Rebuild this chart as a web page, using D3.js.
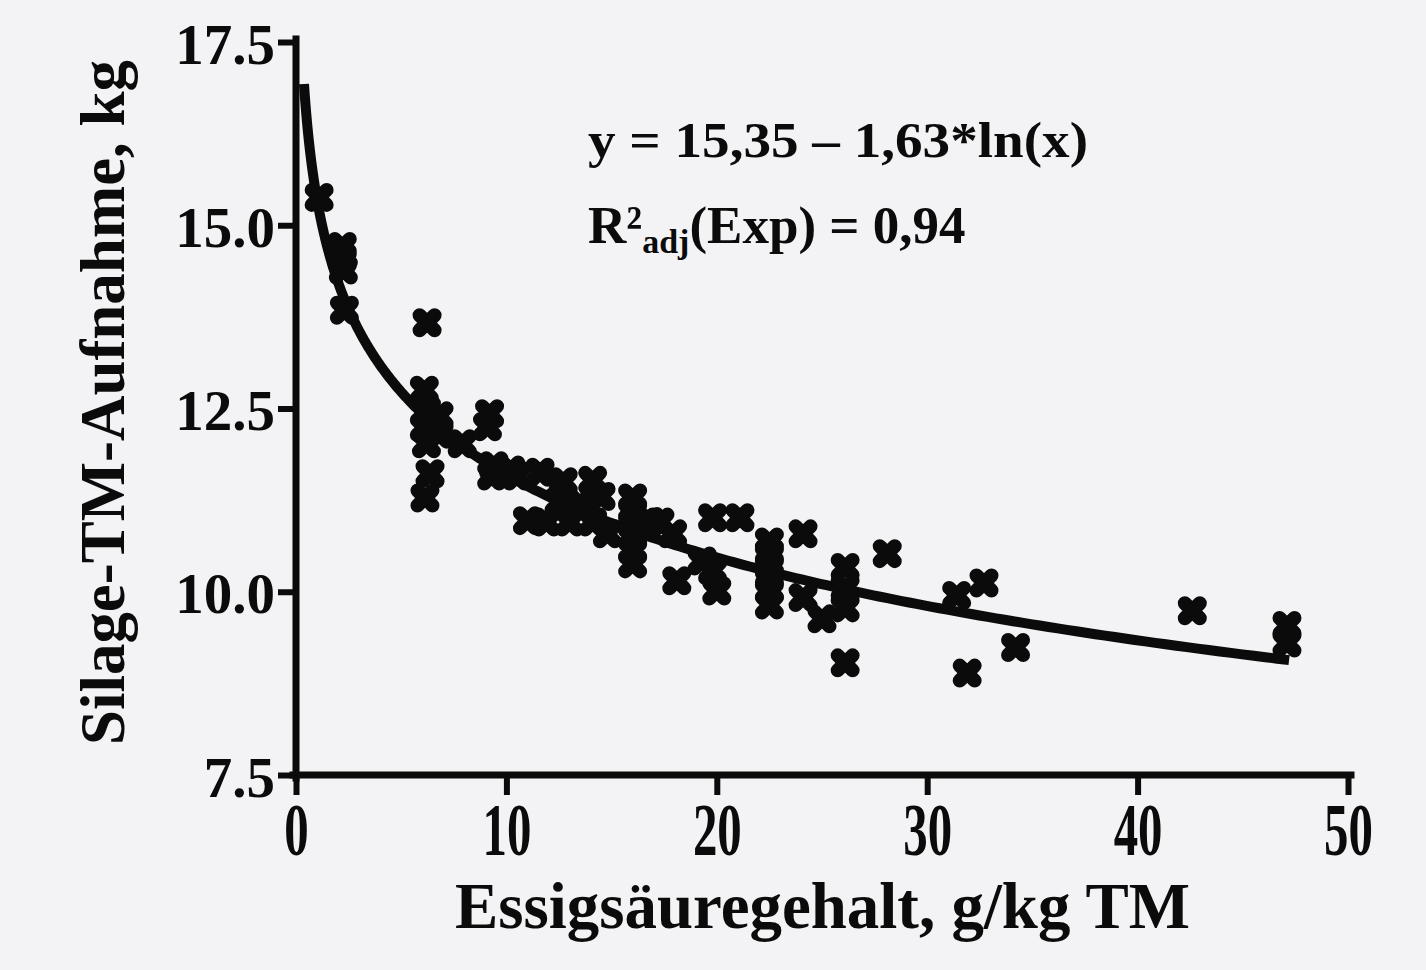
<!DOCTYPE html>
<html>
<head>
<meta charset="utf-8">
<script src="https://cdn.jsdelivr.net/npm/d3@7"></script>
<style>
  html, body { margin: 0; padding: 0; background: #f3f3f5; }
  svg { display: block; }
  text { font-family: "Liberation Serif", "Times New Roman", serif; font-weight: bold; fill: #0b0b0b; }
</style>
</head>
<body>
<svg id="chart" width="1426" height="970"></svg>
<script>
// Acetic acid content (g/kg DM) and silage DM intake (kg)
const essigsaeure = [
  1.1, 2.2, 2.2, 2.25, 2.3,
  6.23, 6.1, 6.2, 6.1, 6.2, 6.8, 6.8, 6.37, 6.13,
  7.9, 9.2, 9.1, 9.3, 9.4, 10.5, 10.2, 11.6, 12.7, 14.1,
  11.0, 11.9, 13.0, 14.1, 14.8, 12.5, 13.5, 14.5,
  16.0, 16.0, 16.0, 16.0, 16.0, 16.0,
  16.8, 17.3, 17.9, 18.1, 19.3, 19.8, 20.0, 19.8, 21.1,
  22.5, 22.5, 22.5, 22.5, 22.5, 22.5,
  24.1, 24.1, 25.0, 26.1, 26.1, 26.1, 26.1, 28.1,
  31.4, 32.7, 31.9, 34.2, 42.6, 47.1, 47.1
];
const tmAufnahme = [
  15.38, 14.71, 14.55, 14.39, 13.84,
  13.67, 12.75, 12.47, 12.24, 12.02, 12.40, 12.15, 11.61, 11.28,
  12.02, 12.43, 12.25, 11.58, 11.72, 11.58, 11.66, 11.63, 11.50, 11.52,
  10.97, 10.95, 10.95, 10.95, 10.79, 11.22, 11.20, 11.30,
  11.28, 11.10, 10.93, 10.75, 10.57, 10.38,
  10.96, 10.95, 10.79, 10.15, 10.42, 10.29, 10.01, 11.01, 11.01,
  10.68, 10.52, 10.35, 10.19, 10.03, 9.82,
  10.79, 9.92, 9.63, 10.33, 10.05, 9.78, 9.03, 10.52,
  9.95, 10.12, 8.89, 9.24, 9.74, 9.54, 9.30
];

// Fitted model y = a + b*ln(x)
const fitA = 15.35;
const fitB = -1.63;
const fitRange = [0.38, 47.2];

const xTicks = [0, 10, 20, 30, 40, 50];
const yTicks = [7.5, 10.0, 12.5, 15.0, 17.5];
const xTickLabels = ["0", "10", "20", "30", "40", "50"];
const yTickLabels = ["7.5", "10.0", "12.5", "15.0", "17.5"];

const svg = d3.select("#chart");
const x = d3.scaleLinear().domain([0, 50]).range([296, 1348]);
const y = d3.scaleLinear().domain([7.5, 17.5]).range([775, 42]);

// Fitted curve
const curvePts = d3.range(0, 401).map(i => {
  const t = i / 400;
  const xv = Math.exp(Math.log(fitRange[0]) + t * (Math.log(fitRange[1]) - Math.log(fitRange[0])));
  return [xv, fitA + fitB * Math.log(xv)];
});
svg.append("path")
  .datum(curvePts)
  .attr("fill", "none")
  .attr("stroke", "#0b0b0b")
  .attr("stroke-width", 10)
  .attr("stroke-linejoin", "round")
  .attr("d", d3.line().x(d => x(d[0])).y(d => y(d[1])));

// Data markers (heavy crosses)
const pts = essigsaeure.map((v, i) => [v, tmAufnahme[i]]);
svg.append("g").selectAll("path")
  .data(pts)
  .join("path")
  .attr("transform", d => `translate(${x(d[0])},${y(d[1])})`)
  .attr("d", "M-7.5,-7.5L7.5,7.5M-7.5,7.5L7.5,-7.5")
  .attr("fill", "none")
  .attr("stroke", "#0b0b0b")
  .attr("stroke-width", 14)
  .attr("stroke-linecap", "round");

// Axes
const xAxis = svg.append("g")
  .attr("transform", `translate(0,${y(7.5)})`)
  .call(d3.axisBottom(x).tickValues(xTicks).tickSize(20).tickSizeOuter(0).tickFormat((d, i) => xTickLabels[i]));
const yAxis = svg.append("g")
  .attr("transform", `translate(${x(0)},0)`)
  .call(d3.axisLeft(y).tickValues(yTicks).tickSize(18).tickSizeOuter(0).tickFormat((d, i) => yTickLabels[i]));

[xAxis, yAxis].forEach(g => {
  g.select(".domain").attr("stroke", "#0b0b0b").attr("stroke-width", 7).attr("stroke-linecap", "square");
  g.selectAll(".tick line").attr("stroke", "#0b0b0b").attr("stroke-width", 6);
});
xAxis.select(".domain").attr("d", `M${x(0) - 3},0H${x(50) + 3}`);
yAxis.select(".domain").attr("d", `M0,${y(17.5) - 3}V${y(7.5) + 3}`);

xAxis.selectAll(".tick text")
  .attr("y", 80)
  .attr("dy", 0)
  .attr("font-size", 74)
  .attr("transform", "scale(0.66,1)")
  .attr("fill", "#0b0b0b");
yAxis.selectAll(".tick text")
  .attr("x", -21)
  .attr("dy", "0.37em")
  .attr("font-size", 57)
  .attr("fill", "#0b0b0b");

// Axis titles
svg.append("text")
  .attr("x", 455).attr("y", 928)
  .attr("font-size", 66)
  .attr("textLength", 735)
  .attr("lengthAdjust", "spacingAndGlyphs")
  .text("Essigsäuregehalt, g/kg TM");

svg.append("text")
  .attr("transform", "translate(124,745) rotate(-90)")
  .attr("font-size", 64)
  .attr("textLength", 685)
  .attr("lengthAdjust", "spacingAndGlyphs")
  .text("Silage-TM-Aufnahme, kg");

// Regression annotation
svg.append("text")
  .attr("x", 588).attr("y", 157)
  .attr("font-size", 51)
  .attr("textLength", 500)
  .attr("lengthAdjust", "spacingAndGlyphs")
  .text("y = 15,35 – 1,63*ln(x)");

const r2 = svg.append("text").attr("x", 588).attr("y", 243).attr("font-size", 53);
r2.append("tspan").text("R²");
r2.append("tspan").attr("font-size", 34).attr("dy", 10).text("adj");
r2.append("tspan").attr("dy", -10).text("(Exp) = 0,94");
</script>
</body>
</html>
